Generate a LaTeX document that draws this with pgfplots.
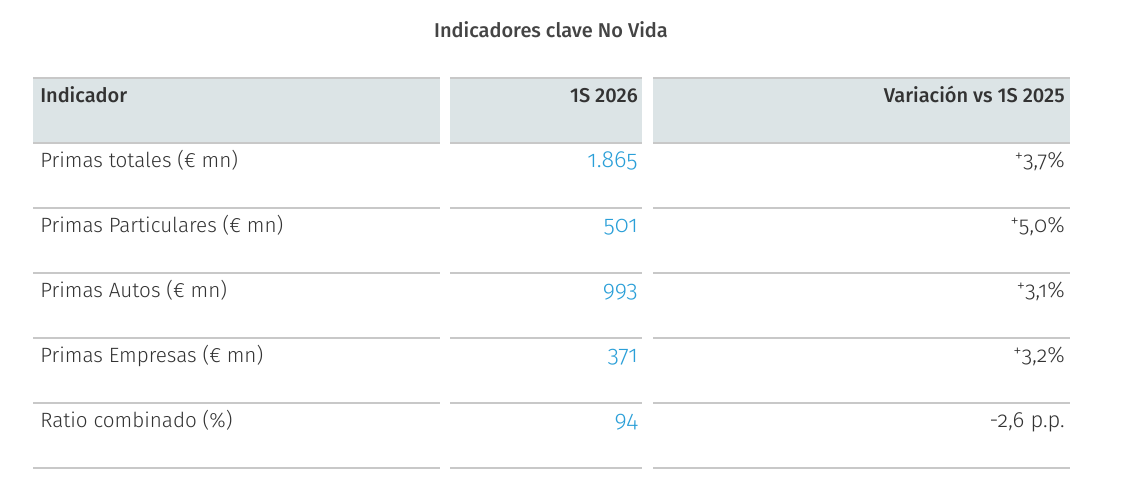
\documentclass[border=0pt]{standalone}
\usepackage{fontspec}
\setmainfont{Fira Sans}[Numbers=OldStyle,UprightFont=* Light]
\newfontfamily\hdrfont{Fira Sans}[Numbers=Lining,UprightFont=* Medium]
\usepackage{pgfplots}
\usepackage{pgfplotstable}
\pgfplotsset{compat=1.18}
\definecolor{hdrbg}{HTML}{DCE4E6}
\definecolor{linec}{HTML}{C8C8C8}
\definecolor{txt}{HTML}{333333}
\definecolor{ttl}{HTML}{444444}
\definecolor{val}{HTML}{2A9FD8}
\newcommand\splus{\raisebox{0.45ex}{\fontsize{12.5}{12}\selectfont+}}
\pgfplotstableread[col sep=semicolon]{
y;label;value;change
167;Primas totales (€ mn);1.865;\splus3,7\%
232;Primas Particulares (€ mn);501;\splus5,0\%
297;Primas Autos (€ mn);993;\splus3,1\%
362;Primas Empresas (€ mn);371;\splus3,2\%
427;Ratio combinado (\%);94;-2,6 p.p.
}\datatable
\begin{document}
\begin{tikzpicture}[font=\fontsize{15.5}{18}\selectfont]
\begin{axis}[
  scale only axis, width=852.75pt, height=372.75pt,
  xmin=0, xmax=1137, ymin=0, ymax=497, y dir=reverse,
  hide axis, clip=false,
]
\addplot[fill=white, draw=none] coordinates {(0,0)(1137,0)(1137,497)(0,497)} -- cycle;
% header bands
\addplot[fill=hdrbg, draw=none] coordinates {(33,78)(440,78)(440,143)(33,143)} -- cycle;
\addplot[fill=hdrbg, draw=none] coordinates {(450,78)(642,78)(642,143)(450,143)} -- cycle;
\addplot[fill=hdrbg, draw=none] coordinates {(653,78)(1070,78)(1070,143)(653,143)} -- cycle;
% separators
\pgfplotsinvokeforeach{78,143,208,273,338,403,468}{
  \addplot[linec, line width=0.9pt] coordinates {(33,#1)(440,#1)};
  \addplot[linec, line width=0.9pt] coordinates {(450,#1)(642,#1)};
  \addplot[linec, line width=0.9pt] coordinates {(653,#1)(1070,#1)};
}
% title and header
\node[anchor=base, text=ttl, inner sep=0pt, font=\fontsize{15}{18}\hdrfont] at (axis cs:551,37) {Indicadores clave No Vida};
\node[anchor=base west, text=txt, inner sep=0pt, font=\fontsize{15}{18}\hdrfont] at (axis cs:40,102) {Indicador};
\node[anchor=base east, text=txt, inner sep=0pt, font=\fontsize{15}{18}\hdrfont] at (axis cs:638,102) {1S 2026};
\node[anchor=base east, text=txt, inner sep=0pt, font=\fontsize{15}{18}\hdrfont] at (axis cs:1065,102) {Variación vs 1S 2025};
% rows
\addplot[draw=none, mark=none, nodes near coords, point meta=explicit symbolic,
  every node near coord/.append style={anchor=base west, inner sep=0pt, text=txt}]
  table[x expr=40, y=y, meta=label] {\datatable};
\addplot[draw=none, mark=none, nodes near coords, point meta=explicit symbolic,
  every node near coord/.append style={anchor=base east, inner sep=0pt, text=val, font=\fontsize{17.5}{18}\selectfont}]
  table[x expr=638, y=y, meta=value] {\datatable};
\addplot[draw=none, mark=none, nodes near coords, point meta=explicit symbolic,
  every node near coord/.append style={anchor=base east, inner sep=0pt, text=txt, font=\fontsize{16.5}{18}\selectfont}]
  table[x expr=1065, y=y, meta=change] {\datatable};
\end{axis}
\end{tikzpicture}
\end{document}
